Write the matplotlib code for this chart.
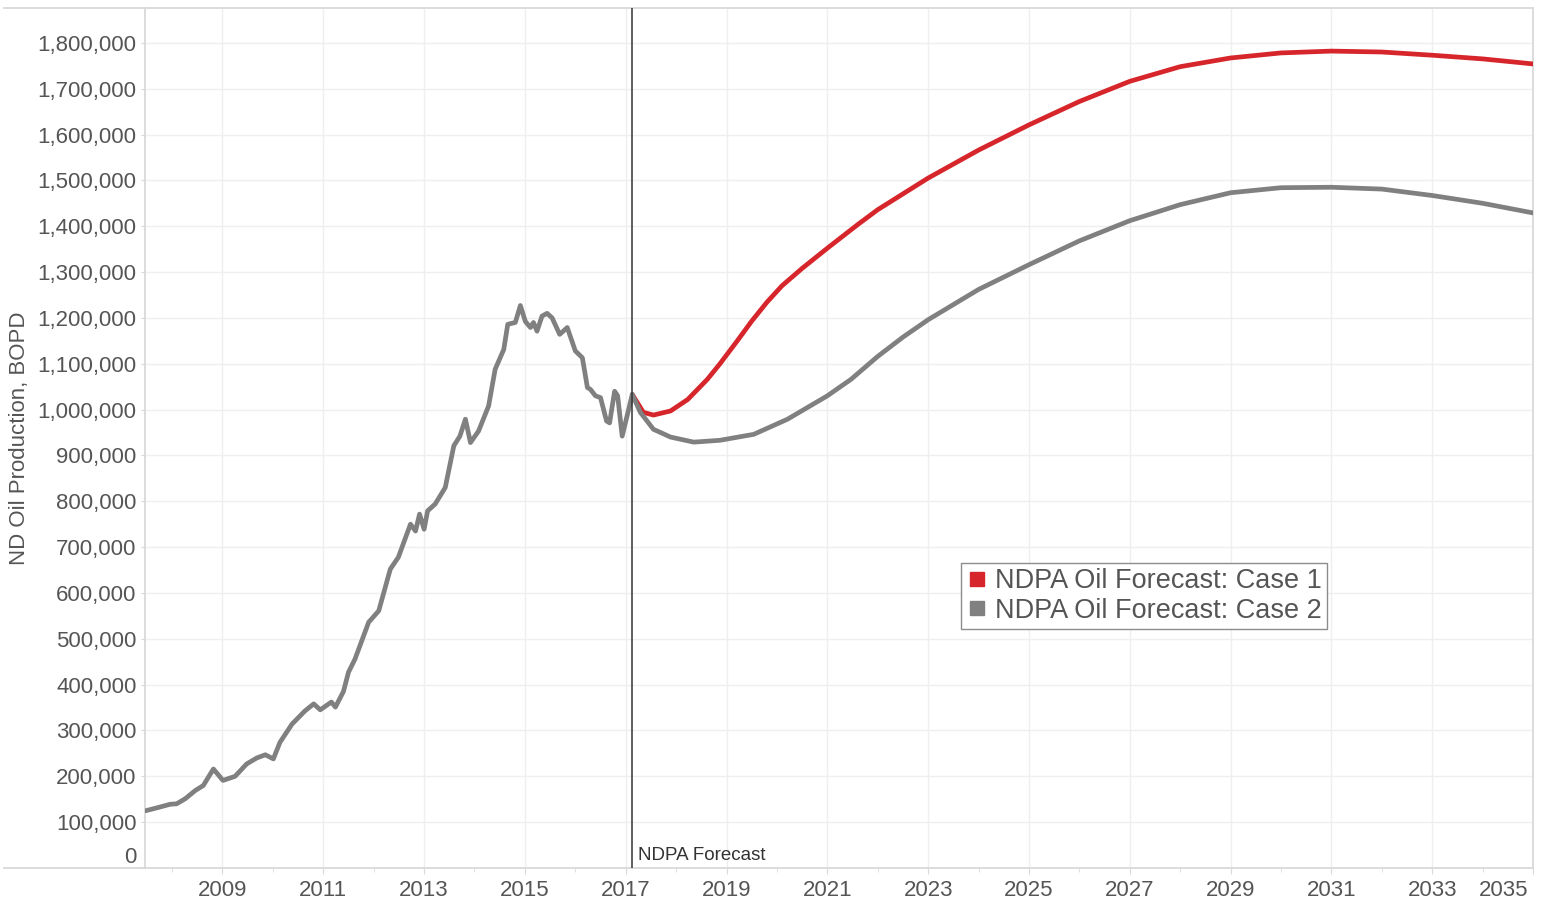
import matplotlib.pyplot as plt
import matplotlib as mpl
from matplotlib.lines import Line2D
from matplotlib.ticker import FuncFormatter
from matplotlib.transforms import ScaledTranslation


# Data (decimal year, thousand BOPD)
hist_year = [2007.48, 2007.76, 2007.96, 2008.09, 2008.26, 2008.46, 2008.62, 2008.82,
             2009.01, 2009.25, 2009.48, 2009.68, 2009.85, 2010.01, 2010.14, 2010.38,
             2010.64, 2010.81, 2010.94, 2011.16, 2011.24, 2011.40, 2011.50, 2011.63,
             2011.90, 2012.10, 2012.33, 2012.49, 2012.73, 2012.83, 2012.91, 2013.00,
             2013.07, 2013.22, 2013.42, 2013.59, 2013.71, 2013.82, 2013.92, 2014.08,
             2014.28, 2014.41, 2014.58, 2014.66, 2014.81, 2014.91, 2015.01, 2015.11,
             2015.17, 2015.24, 2015.34, 2015.44, 2015.54, 2015.69, 2015.84, 2016.00,
             2016.14, 2016.24, 2016.30, 2016.40, 2016.50, 2016.62, 2016.68, 2016.78,
             2016.84, 2016.93, 2017.13]
hist_kbopd = [125, 133, 139, 140, 151, 169, 180, 216,
              191, 200, 227, 240, 247, 238, 274, 314,
              343, 358, 345, 362, 351, 385, 427, 456,
              536, 561, 652, 678, 750, 735, 772, 739,
              779, 794, 830, 921, 942, 979, 928, 953,
              1008, 1088, 1131, 1186, 1190, 1227, 1192, 1179,
              1190, 1171, 1204, 1210, 1200, 1164, 1179, 1128,
              1113, 1048, 1044, 1030, 1026, 975, 971, 1040,
              1030, 942, 1033]

case1_year = [2017.13, 2017.35, 2017.55, 2017.89, 2018.23, 2018.62, 2018.87, 2019.2,
              2019.5, 2019.8, 2020.1, 2020.5, 2021.0, 2021.62, 2022.0, 2023.0,
              2024.0, 2025.0, 2026.0, 2027.0, 2028.0, 2029.0, 2030.0, 2031.0,
              2032.0, 2033.0, 2034.0, 2035.0]
case1_kbopd = [1033, 994, 988, 997, 1022, 1066, 1100, 1148,
               1193, 1234, 1270, 1308, 1352, 1405, 1436, 1505,
               1566, 1621, 1672, 1716, 1748, 1767, 1778, 1782,
               1780, 1773, 1765, 1754]

case2_year = [2017.13, 2017.29, 2017.55, 2017.89, 2018.35, 2018.87, 2019.54, 2020.21,
              2021.0, 2021.47, 2022.0, 2022.5, 2023.0, 2024.0, 2025.0, 2026.0,
              2027.0, 2028.0, 2029.0, 2030.0, 2031.0, 2032.0, 2033.0, 2034.0, 2035.0]
case2_kbopd = [1033, 994, 957, 940, 929, 933, 946, 979,
               1030, 1066, 1116, 1158, 1196, 1262, 1316, 1368,
               1412, 1447, 1473, 1484, 1485, 1481, 1467, 1450, 1429]

forecast_start = 2017.13
year_ticks = list(range(2009, 2036, 2))
minor_year_ticks = list(range(2008, 2035, 2))
y_ticks = list(range(0, 1800001, 100000))
labels = ["NDPA Oil Forecast: Case 1", "NDPA Oil Forecast: Case 2"]

red = "#d7262b"
grey = "#808080"
text_grey = "#555555"
rule_grey = "#d9d9d9"

mpl.rcParams["font.family"] = ["Liberation Sans", "DejaVu Sans"]


# Figure and axes placed like the original
W, H = 1546, 901
fig = plt.figure(figsize=(W / 100, H / 100), dpi=100)
ax = fig.add_axes([145 / W, 1 - 868 / H, (1533 - 145) / W, (868 - 8) / H])

line_kw = dict(lw=3.4, solid_capstyle="round", solid_joinstyle="round")
ax.plot(case1_year, [v * 1000 for v in case1_kbopd], color=red, zorder=3, **line_kw)
ax.plot(hist_year, [v * 1000 for v in hist_kbopd], color=grey, zorder=4, **line_kw)
ax.plot(case2_year, [v * 1000 for v in case2_kbopd], color=grey, zorder=4, **line_kw)

# Forecast reference line
ax.axvline(forecast_start, color="#333333", lw=1.1, zorder=5)
ax.annotate("NDPA Forecast", xy=(forecast_start, 0), xycoords=("data", "axes fraction"),
            xytext=(4, 9), textcoords="offset points", fontsize=13.5, color="#333333",
            ha="left", va="center")

# Axes
ax.set_xlim(2007.463, 2035.0)
ax.set_ylim(0, 1876000)
ax.set_xticks(year_ticks)
ax.set_xticks(minor_year_ticks, minor=True)
ax.set_yticks(y_ticks)
ax.yaxis.set_major_formatter(FuncFormatter(lambda v, p: f"{int(v):,}"))

ax.grid(True, which="major", color="#efefef", lw=1.0, zorder=0)
ax.tick_params(axis="both", which="both", colors=rule_grey, labelcolor=text_grey, labelsize=16)
ax.tick_params(axis="y", length=3, pad=3)
ax.tick_params(axis="x", which="major", length=4, pad=5)
ax.tick_params(axis="x", which="minor", length=3)

for s in ax.spines.values():
    s.set_color(rule_grey)
    s.set_linewidth(1.3)

# Tableau nudges the edge labels inwards
fig.canvas.draw()
ylabels = ax.get_yticklabels()
ylabels[0].set_transform(ylabels[0].get_transform() + ScaledTranslation(0, 0.13, fig.dpi_scale_trans))
xlabels = ax.get_xticklabels()
xlabels[-1].set_horizontalalignment("right")
xlabels[-1].set_transform(xlabels[-1].get_transform() + ScaledTranslation(-0.05, 0, fig.dpi_scale_trans))

fig.text(20 / W, 1 - 438 / H, "ND Oil Production, BOPD", rotation=90, fontsize=16,
         color=text_grey, ha="center", va="center")

# Header rules running out to the left edge
fig.add_artist(Line2D([4 / W, 145 / W], [1 - 8 / H, 1 - 8 / H], color=rule_grey, lw=1.3))
fig.add_artist(Line2D([4 / W, 145 / W], [1 - 868 / H, 1 - 868 / H], color=rule_grey, lw=1.3))

# Legend
handles = [Line2D([], [], marker="s", ls="none", color=red, markersize=10),
           Line2D([], [], marker="s", ls="none", color=grey, markersize=10)]
leg = ax.legend(handles, labels, loc="upper left", bbox_to_anchor=(0.588, 0.3547),
                borderaxespad=0, fontsize=19.5, frameon=True, fancybox=False,
                framealpha=1, edgecolor="#8c8c8c", labelspacing=0.12, borderpad=0.2,
                handlelength=0.8, handletextpad=0.25, labelcolor=text_grey)
leg.get_frame().set_linewidth(1.0)
leg.set_zorder(10)

fig.savefig("out.png", dpi=100)
